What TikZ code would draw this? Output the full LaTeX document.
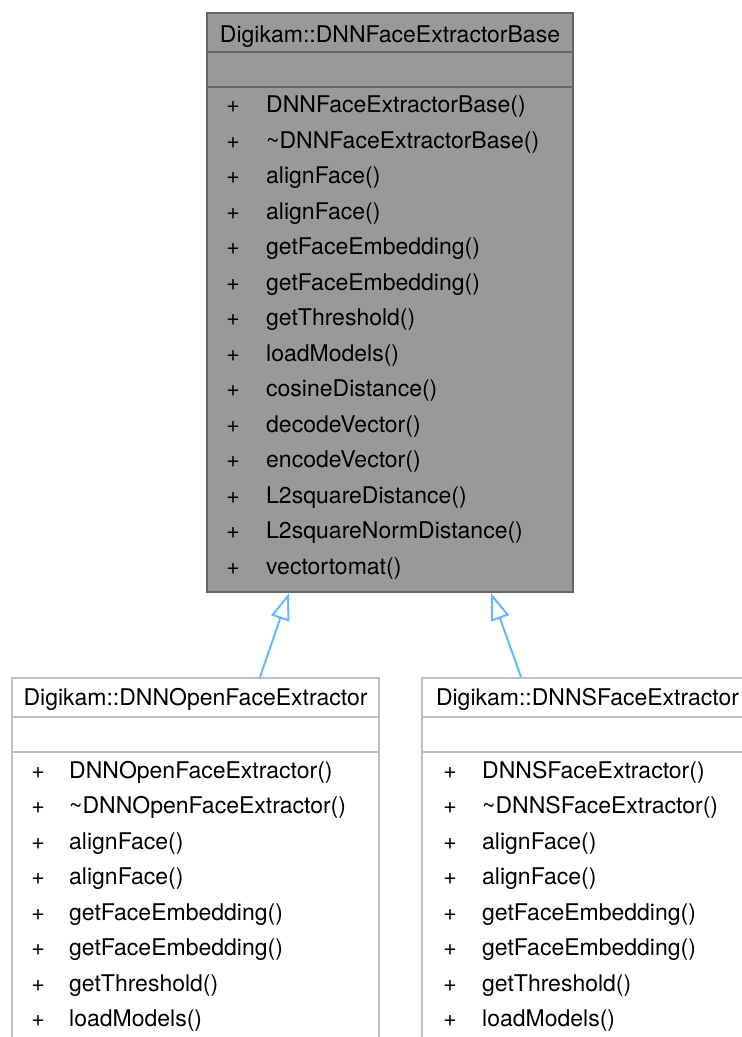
\documentclass[tikz,border=0pt]{standalone}
\usepackage{fontspec}
\setmainfont{TeX Gyre Heros}
\usepackage{xcolor}
\usetikzlibrary{arrows.meta,calc}
\definecolor{BaseFill}{HTML}{999999}
\definecolor{BaseLine}{HTML}{666666}
\definecolor{ChildLine}{HTML}{BFBFBF}
\definecolor{InheritBlue}{HTML}{63B8FF}
\tikzset{
  basebox/.style={draw=BaseLine, fill=BaseFill, line width=2pt, inner sep=0pt, anchor=north west},
  childbox/.style={draw=ChildLine, fill=white, line width=2pt, inner sep=0pt, anchor=north west},
  baserule/.style={draw=BaseLine, line width=2pt},
  childrule/.style={draw=ChildLine, line width=2pt},
  txt/.style={inner sep=0pt, anchor=base west},
  plus/.style={inner sep=0pt, anchor=base},
  inherit/.style={-{Triangle[open, length=27pt, width=19pt]}, line width=2pt, draw=InheritBlue}
}

\begin{document}
\begin{tikzpicture}[x=1pt, y=-1pt, font=\fontsize{23}{28}\selectfont]
    \useasboundingbox (0,0) rectangle (742,1037);
    \node[basebox, minimum width=366pt, minimum height=579pt] (base) at (206,12) {};
    \node[childbox, minimum width=367pt, minimum height=400pt] (open) at (11,677) {};
    \node[childbox, minimum width=331pt, minimum height=400pt] (sface) at (421,677) {};

    % class titles and empty attribute rows
    \node[plus] (basetitle) at ($(base.north)+(0,30)$) {Digikam::DNNFaceExtractorBase};
    \node[plus] (opentitle) at ($(open.north)+(0,28)$) {Digikam::DNNOpenFaceExtractor};
    \node[plus] (sfacetitle) at ($(sface.north)+(0,28)$) {Digikam::DNNSFaceExtractor};
    \draw[baserule] ($(base.north west)+(0,40)$) -- ($(base.north east)+(0,40)$);
    \draw[baserule] ($(base.north west)+(0,75)$) -- ($(base.north east)+(0,75)$);
    \draw[childrule] ($(open.north west)+(0,40)$) -- ($(open.north east)+(0,40)$);
    \draw[childrule] ($(open.north west)+(0,75)$) -- ($(open.north east)+(0,75)$);
    \draw[childrule] ($(sface.north west)+(0,40)$) -- ($(sface.north east)+(0,40)$);
    \draw[childrule] ($(sface.north west)+(0,75)$) -- ($(sface.north east)+(0,75)$);

    % operations
    \foreach \m [count=\i] in {DNNFaceExtractorBase(), \textasciitilde DNNFaceExtractorBase(),
        alignFace(), alignFace(), getFaceEmbedding(), getFaceEmbedding(), getThreshold(),
        loadModels(), cosineDistance(), decodeVector(), encodeVector(), L2squareDistance(),
        L2squareNormDistance(), vectortomat()} {
      \node[plus] (bp\i) at ($(base.north west)+(27,100.5+35.5*\i-35.5)$) {+};
      \node[txt] (bm\i) at ($(base.north west)+(60,100.5+35.5*\i-35.5)$) {\m};
    }
    \foreach \m [count=\i] in {DNNOpenFaceExtractor(), \textasciitilde DNNOpenFaceExtractor(),
        alignFace(), alignFace(), getFaceEmbedding(), getFaceEmbedding(), getThreshold(),
        loadModels()} {
      \node[plus] (op\i) at ($(open.north west)+(27,101+35.5*\i-35.5)$) {+};
      \node[txt] (om\i) at ($(open.north west)+(58,101+35.5*\i-35.5)$) {\m};
    }
    \foreach \m [count=\i] in {DNNSFaceExtractor(), \textasciitilde DNNSFaceExtractor(),
        alignFace(), alignFace(), getFaceEmbedding(), getFaceEmbedding(), getThreshold(),
        loadModels()} {
      \node[plus] (sp\i) at ($(sface.north west)+(29,101+35.5*\i-35.5)$) {+};
      \node[txt] (sm\i) at ($(sface.north west)+(61,101+35.5*\i-35.5)$) {\m};
    }

    \draw[inherit] ($(open.north west)+(249,0)$) -- ($(base.south west)+(83,0)$);
    \draw[inherit] ($(sface.north west)+(100,0)$) -- ($(base.south west)+(285,0)$);
  \end{tikzpicture}
\end{document}
